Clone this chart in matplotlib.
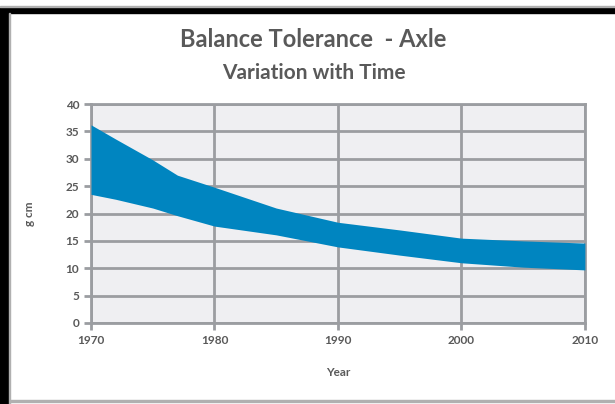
import matplotlib.pyplot as plt
from matplotlib.patches import Rectangle

# band limits
years = [1970, 1972, 1975, 1977, 1980, 1985, 1990, 1995, 2000, 2005, 2010]
upper = [36.2, 33.6, 29.8, 27.0, 24.8, 21.0, 18.4, 17.0, 15.5, 15.0, 14.6]
lower = [23.5, 22.6, 21.0, 19.6, 17.7, 16.1, 13.9, 12.4, 11.0, 10.2, 9.7]

xticks = [1970, 1980, 1990, 2000, 2010]
yticks = [0, 5, 10, 15, 20, 25, 30, 35, 40]

txt = "#595959"
grid = "#9b9da1"
plt.rcParams['font.family'] = ['Lato', 'DejaVu Sans']

fig = plt.figure(figsize=(6.15, 4.04), dpi=100)

# frame around the chart
fig.patches.append(Rectangle((0, 0), 0.013, 0.98, transform=fig.transFigure,
                             color="black", zorder=0))
fig.patches.append(Rectangle((0.008, 0.968), 0.992, 0.013, transform=fig.transFigure,
                             color="black", zorder=0))
fig.patches.append(Rectangle((0.0, 0.982), 1.0, 0.004, transform=fig.transFigure,
                             color="#b0b0b0", zorder=0))
fig.patches.append(Rectangle((0.016, 0.005), 0.984, 0.005, transform=fig.transFigure,
                             color="#b0b0b0", zorder=0))
fig.patches.append(Rectangle((0.014, 0.0), 0.003, 0.968, transform=fig.transFigure,
                             color="#b0b0b0", zorder=0))

ax = fig.add_axes([0.148, 0.2005, 0.803, 0.542])
ax.set_facecolor("#efeff2")
ax.fill_between(years, lower, upper, color="#0085c0", linewidth=0, zorder=3)

ax.set_xlim(1970, 2010)
ax.set_ylim(0, 40)
ax.set_xticks(xticks)
ax.set_yticks(yticks)
ax.grid(True, color=grid, linewidth=2, zorder=1)
ax.set_axisbelow(True)
for s in ax.spines.values():
    s.set_color(grid)
    s.set_linewidth(2)
ax.tick_params(colors=grid, width=2, length=5, labelcolor=txt, labelsize=8.5)
for lab in ax.get_xticklabels() + ax.get_yticklabels():
    lab.set_fontweight("bold")

ax.set_xlabel("Year", color=txt, fontsize=8.5, fontweight="bold", labelpad=15)
ax.set_ylabel("g cm", color=txt, fontsize=8.5, fontweight="bold", labelpad=22)

fig.text(0.51, 0.903, "Balance Tolerance  - Axle", ha="center", va="center",
         color=txt, fontsize=17, fontweight="bold")
fig.text(0.51, 0.82, "Variation with Time", ha="center", va="center",
         color=txt, fontsize=15, fontweight="bold")

fig.savefig("out.png", dpi=100)
